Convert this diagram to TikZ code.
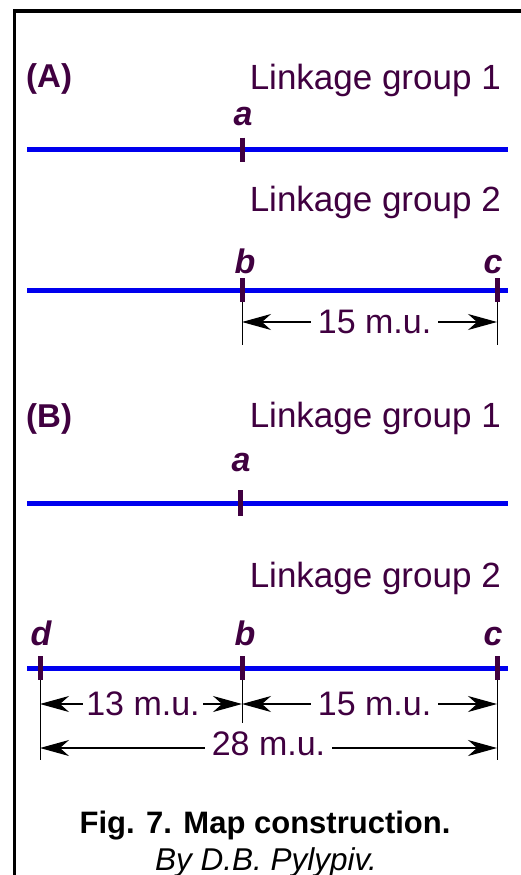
\documentclass[tikz,border=0pt]{standalone}
\usepackage{fontspec}
\setmainfont{Liberation Sans}
\usetikzlibrary{arrows.meta}
\definecolor{txt}{RGB}{64,0,64}
\definecolor{chrom}{RGB}{0,0,238}
\begin{document}
\begin{tikzpicture}[x=1pt,y=-1pt,
  lab/.style={text=txt, font=\fontsize{35}{40}\selectfont, inner sep=0pt, anchor=base east},
  sec/.style={text=txt, font=\fontsize{33}{38}\selectfont\bfseries, inner sep=0pt, anchor=base west},
  gene/.style={text=txt, font=\fontsize{34}{38}\selectfont\bfseries\itshape, inner sep=0pt, anchor=base},
  chromline/.style={draw=chrom, line width=5pt},
  tickmark/.style={draw=txt, line width=5pt},
  ext/.style={draw=black, line width=1pt},
  dimline/.style={draw=black, line width=1.2pt, {Stealth[length=29pt,width=16pt,inset=9pt]}-{Stealth[length=29pt,width=16pt,inset=9pt]}},
  dimlab/.style={text=txt, font=\fontsize{34}{38}\selectfont, fill=white, inner xsep=7pt, inner ysep=0pt}
]
\useasboundingbox (0,0) rectangle (521,875);
\fill[white] (0,0) rectangle (521,875);
% frame
\draw[line width=3.3pt] (14.5,880) -- (14.5,11) -- (530,11);

% ---------- (A) ----------
\node[sec] (secA) at (26,88) {(A)};
\node[lab] (A1) at (501,89) {Linkage group 1};
\coordinate (A1s) at (27,149.5);
\coordinate (A1e) at (508,149.5);
\draw[chromline] (A1s) -- (A1e);
\coordinate (Aa) at (242,149.5);
\draw[tickmark] ([yshift=12pt]Aa) -- ([yshift=-12pt]Aa);
\node[gene] (Aalab) at (243,125) {a};

\node[lab] (A2) at (501,211) {Linkage group 2};
\coordinate (A2s) at (27,290);
\coordinate (A2e) at (508,290);
\draw[chromline] (A2s) -- (A2e);
\coordinate (Ab) at (242,290);
\coordinate (Ac) at (497,290);
\draw[tickmark] ([yshift=12pt]Ab) -- ([yshift=-12pt]Ab);
\draw[tickmark] ([yshift=12pt]Ac) -- ([yshift=-12pt]Ac);
\node[gene] (Ablab) at (245,273) {b};
\node[gene] (Aclab) at (493,273) {c};
\coordinate (Abx) at (242,345);
\coordinate (Acx) at (497,345);
\draw[ext] ([yshift=-12pt]Ab) -- (Abx);
\draw[ext] ([yshift=-12pt]Ac) -- (Acx);
\draw[dimline] (242,322) -- (497,322) node[dimlab, pos=0.52] (Adim) {15 m.u.};

% ---------- (B) ----------
\node[sec] (secB) at (26,427) {(B)};
\node[lab] (B1) at (501,427) {Linkage group 1};
\coordinate (B1s) at (27,503);
\coordinate (B1e) at (508,503);
\draw[chromline] (B1s) -- (B1e);
\coordinate (Ba) at (240,503);
\draw[tickmark] ([yshift=13pt]Ba) -- ([yshift=-13pt]Ba);
\node[gene] (Balab) at (241,471) {a};

\node[lab] (B2) at (501,587) {Linkage group 2};
\coordinate (B2s) at (27,668);
\coordinate (B2e) at (508,668);
\draw[chromline] (B2s) -- (B2e);
\coordinate (Bd) at (40,668);
\coordinate (Bb) at (242,668);
\coordinate (Bc) at (497,668);
\draw[tickmark] ([yshift=12pt]Bd) -- ([yshift=-12pt]Bd);
\draw[tickmark] ([yshift=12pt]Bb) -- ([yshift=-12pt]Bb);
\draw[tickmark] ([yshift=12pt]Bc) -- ([yshift=-12pt]Bc);
\node[gene] (Bdlab) at (41,645) {d};
\node[gene] (Bblab) at (245,645) {b};
\node[gene] (Bclab) at (493,645) {c};
\coordinate (Bdx) at (40,760);
\coordinate (Bbx) at (242,723);
\coordinate (Bcx) at (497,760);
\draw[ext] ([yshift=-12pt]Bd) -- (Bdx);
\draw[ext] ([yshift=-12pt]Bb) -- (Bbx);
\draw[ext] ([yshift=-12pt]Bc) -- (Bcx);
\draw[dimline] (40,704) -- (242,704) node[dimlab, pos=0.51, inner xsep=3pt] (Bdim1) {13 m.u.};
\draw[dimline] (242,704) -- (497,704) node[dimlab, pos=0.52] (Bdim2) {15 m.u.};
\draw[dimline] (40,748) -- (497,748) node[dimlab, pos=0.5, yshift=4pt] (Bdim3) {28 m.u.};

% ---------- caption ----------
\node[font=\fontsize{31}{36}\selectfont\bfseries, inner sep=0pt, anchor=base] (cap) at (265,833) {Fig. 7. Map construction.};
\node[font=\fontsize{31.5}{36}\selectfont\itshape, inner sep=0pt, anchor=base] (by) at (266,870) {By D.B. Pylypiv.};
\end{tikzpicture}
\end{document}
